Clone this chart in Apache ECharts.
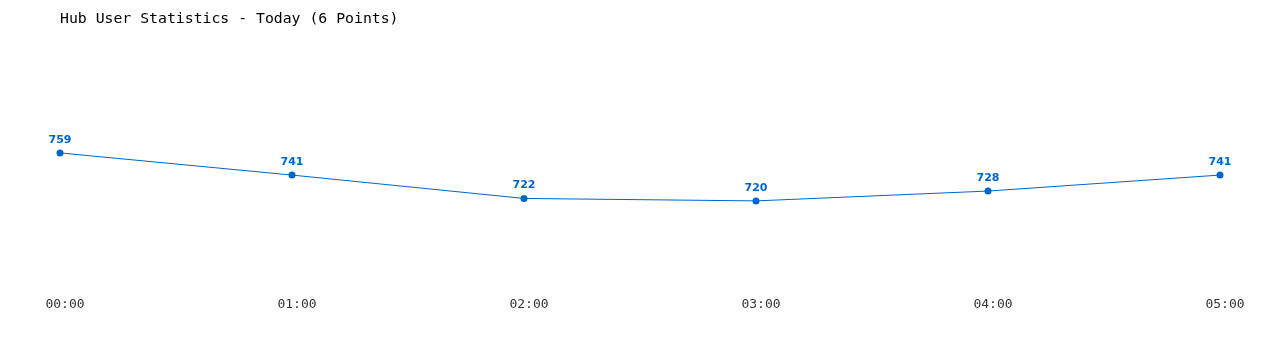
<!DOCTYPE html>
<html>
<head>
<meta charset="utf-8">
<script src="https://cdn.jsdelivr.net/npm/echarts@6/dist/echarts.min.js"></script>
<style>html,body{margin:0;padding:0;background:#fff}#c{width:1280px;height:350px}</style>
</head>
<body>
<div id="c"></div>
<script>
const titleText = 'Hub User Statistics - Today (6 Points)';
const categories = ['00:00', '01:00', '02:00', '03:00', '04:00', '05:00'];
const users = [759, 741, 722, 720, 728, 741];

const chart = echarts.init(document.getElementById('c'));
chart.setOption({
  animation: false,
  backgroundColor: '#ffffff',
  title: {
    text: titleText,
    left: 55,
    top: 7,
    textStyle: { fontFamily: 'DejaVu Sans Mono', fontSize: 14.8, fontWeight: 'normal', color: '#000000' }
  },
  grid: { left: 60, right: 60, top: 41, height: 246 },
  xAxis: {
    type: 'category',
    data: categories,
    boundaryGap: false,
    axisLine: { show: false },
    axisTick: { show: false },
    splitLine: { show: false },
    axisLabel: {
      margin: 11,
      padding: [0, 0, 0, 10],
      fontFamily: 'DejaVu Sans Mono',
      fontSize: 13,
      color: '#333333'
    }
  },
  yAxis: {
    type: 'value',
    min: 650,
    max: 850,
    show: false
  },
  series: [{
    type: 'line',
    data: users,
    symbol: 'circle',
    symbolSize: 7,
    lineStyle: { color: '#0066cc', width: 1 },
    itemStyle: { color: '#0066cc' },
    label: {
      show: true,
      position: 'top',
      distance: 4,
      fontFamily: 'DejaVu Sans',
      fontSize: 11,
      fontWeight: 'bold',
      color: '#0066cc'
    }
  }]
});
</script>
</body>
</html>
